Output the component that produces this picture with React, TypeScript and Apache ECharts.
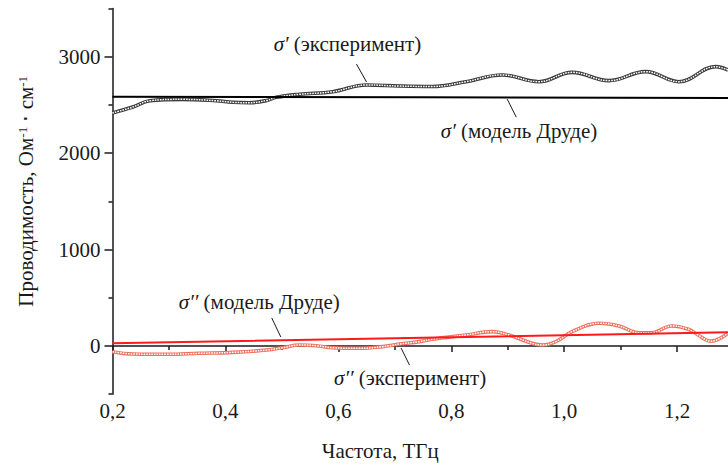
import React, { useEffect, useRef } from "react";
import * as echarts from "echarts";

// Frequencies (THz) and conductivity values (Ohm^-1 cm^-1)
const freqSigma1 = [0.2, 0.236, 0.266, 0.324, 0.384, 0.413, 0.443, 0.473, 0.49, 0.531, 0.59, 0.65, 0.708, 0.766, 0.826, 0.89, 0.955, 1.014, 1.079, 1.144, 1.203, 1.268, 1.29];
const sigma1Exp = [2417, 2478, 2543, 2558, 2543, 2527, 2523, 2546, 2579, 2610, 2637, 2707, 2696, 2691, 2741, 2811, 2741, 2838, 2752, 2845, 2741, 2897, 2862];

const freqSigma2 = [0.2, 0.236, 0.296, 0.354, 0.413, 0.473, 0.501, 0.531, 0.561, 0.59, 0.637, 0.678, 0.708, 0.743, 0.766, 0.826, 0.872, 0.902, 0.943, 0.961, 0.985, 1.014, 1.062, 1.097, 1.132, 1.155, 1.19, 1.22, 1.237, 1.26, 1.29];
const sigma2Exp = [-59, -83, -86, -76, -66, -42, -18, 10, 3, -18, -24, -7, 20, 45, 70, 114, 149, 114, 28, 10, 45, 149, 236, 208, 138, 138, 208, 174, 114, 50, 132];

const freqDrude = [0.2, 0.75, 1.29];
const sigma1Drude = [2585, 2580, 2572];
const sigma2Drude = [28, 86, 143];

const xMajorTicks = [0.2, 0.4, 0.6, 0.8, 1.0, 1.2];
const xMinorTicks = [0.3, 0.5, 0.7, 0.9, 1.1];
const yMajorTicks = [0, 1000, 2000, 3000];
const yMinorTicks = [-500, 500, 1500, 2500, 3500];

// Annotations: text, its anchor (f, v), leader line start and end
const annotations: { text: string; at: number[]; from: number[]; to: number[] }[] = [
  { text: "{i|σ′} (эксперимент)", at: [0.616, 3132], from: [0.632, 2924], to: [0.65, 2737] },
  { text: "{i|σ′} (модель Друде)", at: [0.92, 2227], from: [0.899, 2560], to: [0.915, 2373] },
  { text: "{i|σ′′} (модель Друде)", at: [0.46, 458], from: [0.482, 291], to: [0.498, 94] },
  { text: "{i|σ′′} (эксперимент)", at: [0.727, -333], from: [0.711, -21], to: [0.726, -198] },
];

const FONT = "Liberation Serif";
const INK = "#1a1a1a";

const zip = (xs: number[], ys: number[]) => xs.map((x, i) => [x, ys[i]]);

export default function App() {
  const ref = useRef<HTMLDivElement>(null);
  useEffect(() => {
    if (!ref.current) return;
    const chart = echarts.init(ref.current, null, { renderer: "svg" });
    const axisLine = { lineStyle: { color: INK, width: 1.5 } };
    const tickStyle = { color: INK, width: 1.5 };
    chart.setOption({
      animation: false,
      grid: { left: 112.5, right: 0, top: 8.5, bottom: 72.8 },
      xAxis: [
        {
          type: "value",
          min: 0.2,
          max: 1.29,
          position: "bottom",
          axisLine,
          axisTick: { customValues: xMajorTicks, length: 6, lineStyle: tickStyle },
          axisLabel: {
            customValues: xMajorTicks,
            fontFamily: FONT,
            fontSize: 21,
            color: INK,
            margin: 6,
            formatter: (v: number) => v.toFixed(1).replace(".", ","),
          },
          splitLine: { show: false },
          name: "Частота, ТГц",
          nameLocation: "middle",
          nameGap: 46,
          nameTextStyle: { fontFamily: FONT, fontSize: 21, color: INK, padding: [0, 80, 0, 0] },
        },
        {
          type: "value",
          min: 0.2,
          max: 1.29,
          position: "bottom",
          axisLine: { show: false },
          axisTick: { customValues: xMinorTicks, length: 4, lineStyle: tickStyle },
          axisLabel: { show: false },
          splitLine: { show: false },
        },
      ],
      yAxis: [
        {
          type: "value",
          min: -500,
          max: 3500,
          position: "left",
          axisLine: { show: true, ...axisLine },
          axisTick: { show: true, customValues: yMajorTicks, length: 8, lineStyle: tickStyle },
          axisLabel: {
            customValues: yMajorTicks,
            fontFamily: FONT,
            fontSize: 21,
            color: INK,
            margin: 12,
            formatter: (v: number) => String(v),
          },
          splitLine: { show: false },
          name: "{a|Проводимость, Ом}{s|-1}{a| ⋅ см}{s|-1}",
          nameLocation: "middle",
          nameGap: 76,
          nameRotate: 90,
          nameTextStyle: {
            fontFamily: FONT,
            fontSize: 21,
            color: INK,
            padding: [0, 0, 0, 20],
            rich: {
              a: { fontFamily: FONT, fontSize: 21, color: INK },
              s: { fontFamily: FONT, fontSize: 13, color: INK, verticalAlign: "top", padding: [0, 0, 6, 0] },
            },
          },
        },
        {
          type: "value",
          min: -500,
          max: 3500,
          position: "left",
          axisLine: { show: false },
          axisTick: { show: true, customValues: yMinorTicks, length: 4, lineStyle: tickStyle },
          axisLabel: { show: false },
          splitLine: { show: false },
        },
      ],
      series: [
        {
          type: "line",
          name: "σ′ эксперимент",
          data: zip(freqSigma1, sigma1Exp),
          smooth: 0.4,
          showSymbol: false,
          lineStyle: { color: "#3a3a3a", width: 3.6 },
        },
        {
          type: "line",
          name: "σ′ эксперимент (beads)",
          data: zip(freqSigma1, sigma1Exp),
          smooth: 0.4,
          showSymbol: false,
          lineStyle: { color: "#ffffff", width: 1.5, type: [1.6, 1] },
        },
        {
          type: "line",
          name: "σ′′ эксперимент",
          data: zip(freqSigma2, sigma2Exp),
          smooth: 0.4,
          showSymbol: false,
          lineStyle: { color: "#f07060", width: 3.6 },
        },
        {
          type: "line",
          name: "σ′′ эксперимент (beads)",
          data: zip(freqSigma2, sigma2Exp),
          smooth: 0.4,
          showSymbol: false,
          lineStyle: { color: "#ffffff", width: 1.5, type: [1.6, 1] },
        },
        {
          type: "line",
          name: "σ′′ Друде",
          data: zip(freqDrude, sigma2Drude),
          showSymbol: false,
          lineStyle: { color: "#ff1a1a", width: 2 },
        },
        {
          type: "line",
          name: "σ′ Друде",
          data: zip(freqDrude, sigma1Drude),
          showSymbol: false,
          lineStyle: { color: "#000", width: 2 },
          markLine: {
            silent: true,
            symbol: ["none", "none"],
            label: { show: false },
            lineStyle: { color: INK, width: 1, type: "solid" },
            data: annotations.map((a) => [{ coord: a.from }, { coord: a.to }]),
          },
          markPoint: {
            silent: true,
            symbol: "rect",
            symbolSize: 1,
            itemStyle: { color: "rgba(0,0,0,0)" },
            label: {
              show: true,
              position: "inside",
              fontFamily: FONT,
              fontSize: 21,
              color: INK,
              rich: { i: { fontFamily: FONT, fontSize: 21, fontStyle: "italic", color: INK } },
            },
            data: annotations.map((a) => ({
              coord: a.at,
              label: { formatter: a.text },
            })),
          },
        },
      ],
    });
    return () => chart.dispose();
  }, []);
  return (
    <div
      ref={ref}
      style={{ position: "fixed", left: 0, top: 0, width: 728, height: 467, background: "#fff", fontFamily: FONT }}
    />
  );
}
